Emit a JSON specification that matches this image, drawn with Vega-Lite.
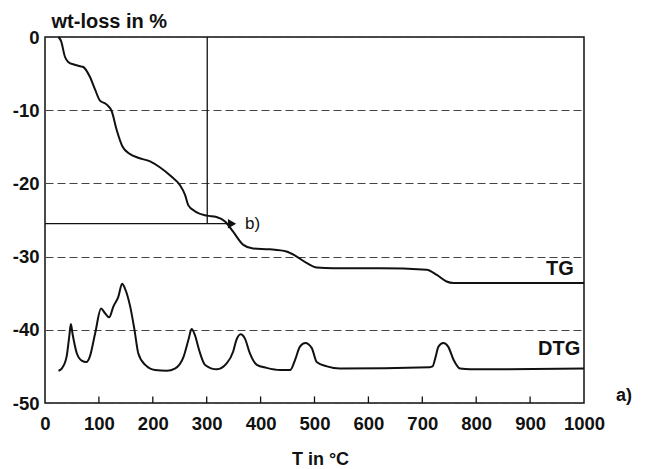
{
  "$schema": "https://vega.github.io/schema/vega-lite/v6.json",
  "width": 539,
  "height": 366,
  "autosize": "none",
  "padding": {"left": 45, "top": 37, "right": 68, "bottom": 66},
  "background": "white",
  "config": {
    "font": "Liberation Sans",
    "view": {"stroke": "#111", "strokeWidth": 1.5},
    "axis": {"labelFont": "Liberation Sans", "labelFontWeight": "bold", "labelFontSize": 18.5, "labelColor": "#111", "titleFont": "Liberation Sans", "titleFontWeight": "bold", "titleColor": "#111", "labelFlush": false, "domain": false, "labelOverlap": false}
  },
  "datasets": {
    "tg": [
      {"T": 25, "v": 0}, {"T": 30, "v": -0.6}, {"T": 37, "v": -2.7}, {"T": 43, "v": -3.4}, {"T": 55, "v": -3.8}, {"T": 65, "v": -4.0}, {"T": 71, "v": -4.1}, {"T": 83, "v": -5.4}, {"T": 93, "v": -7.2}, {"T": 102, "v": -8.7}, {"T": 114, "v": -9.2}, {"T": 124, "v": -10.2}, {"T": 133, "v": -12.7}, {"T": 144, "v": -15.0}, {"T": 158, "v": -16.0}, {"T": 173, "v": -16.5}, {"T": 195, "v": -17.0}, {"T": 213, "v": -17.8}, {"T": 235, "v": -19.1}, {"T": 250, "v": -20.2}, {"T": 260, "v": -21.6}, {"T": 266, "v": -23.0}, {"T": 278, "v": -23.8}, {"T": 300, "v": -24.4}, {"T": 318, "v": -24.6}, {"T": 334, "v": -25.2}, {"T": 349, "v": -26.6}, {"T": 368, "v": -28.4}, {"T": 386, "v": -28.9}, {"T": 417, "v": -29.0}, {"T": 448, "v": -29.3}, {"T": 467, "v": -30.0}, {"T": 486, "v": -30.9}, {"T": 504, "v": -31.5}, {"T": 535, "v": -31.6}, {"T": 622, "v": -31.6}, {"T": 708, "v": -31.8}, {"T": 727, "v": -32.5}, {"T": 745, "v": -33.4}, {"T": 758, "v": -33.6}, {"T": 1000, "v": -33.6}
    ],
    "dtg": [
      {"T": 25, "v": -45.6}, {"T": 31, "v": -45.3}, {"T": 40, "v": -43.7}, {"T": 45, "v": -40.9}, {"T": 48, "v": -39.2}, {"T": 51, "v": -40.5}, {"T": 59, "v": -43.2}, {"T": 68, "v": -44.2}, {"T": 77, "v": -44.4}, {"T": 83, "v": -43.7}, {"T": 93, "v": -40.5}, {"T": 104, "v": -37.1}, {"T": 111, "v": -37.7}, {"T": 119, "v": -38.3}, {"T": 127, "v": -36.8}, {"T": 136, "v": -35.5}, {"T": 143, "v": -33.7}, {"T": 148, "v": -34.3}, {"T": 158, "v": -36.8}, {"T": 166, "v": -40.0}, {"T": 173, "v": -43.2}, {"T": 186, "v": -44.8}, {"T": 204, "v": -45.5}, {"T": 226, "v": -45.6}, {"T": 241, "v": -45.3}, {"T": 257, "v": -43.7}, {"T": 266, "v": -41.4}, {"T": 272, "v": -39.9}, {"T": 278, "v": -40.7}, {"T": 286, "v": -42.8}, {"T": 297, "v": -44.8}, {"T": 319, "v": -45.4}, {"T": 337, "v": -44.6}, {"T": 349, "v": -43.0}, {"T": 355, "v": -41.4}, {"T": 363, "v": -40.6}, {"T": 371, "v": -41.2}, {"T": 380, "v": -43.2}, {"T": 393, "v": -44.8}, {"T": 411, "v": -45.2}, {"T": 436, "v": -45.5}, {"T": 455, "v": -45.5}, {"T": 464, "v": -44.1}, {"T": 473, "v": -42.3}, {"T": 483, "v": -41.8}, {"T": 495, "v": -42.5}, {"T": 504, "v": -44.4}, {"T": 523, "v": -45.0}, {"T": 547, "v": -45.3}, {"T": 714, "v": -45.1}, {"T": 719, "v": -45.0}, {"T": 724, "v": -43.9}, {"T": 730, "v": -42.3}, {"T": 739, "v": -41.8}, {"T": 748, "v": -42.3}, {"T": 758, "v": -44.1}, {"T": 770, "v": -45.3}, {"T": 789, "v": -45.4}, {"T": 1000, "v": -45.3}
    ],
    "labels": [
      {"T": 981, "v": -31.7, "text": "TG"},
      {"T": 993, "v": -42.6, "text": "DTG"},
      {"T": 1089, "v": -49, "text": "a)"}
    ],
    "ticks": [
      {"T": 100, "v": -50, "v2": -49.1}, {"T": 200, "v": -50, "v2": -49.1}, {"T": 300, "v": -50, "v2": -49.1}, {"T": 400, "v": -50, "v2": -49.1}, {"T": 500, "v": -50, "v2": -49.1}, {"T": 600, "v": -50, "v2": -49.1}, {"T": 700, "v": -50, "v2": -49.1}, {"T": 800, "v": -50, "v2": -49.1}, {"T": 900, "v": -50, "v2": -49.1}
    ]
  },
  "layer": [
    {
      "data": {"values": [{"x": 0}]},
      "mark": {"type": "rule", "strokeWidth": 0},
      "encoding": {
        "x": {"field": "x", "type": "quantitative", "scale": {"domain": [0, 1000], "nice": false, "zero": false},
          "axis": {"values": [0, 100, 200, 300, 400, 500, 600, 700, 800, 900, 1000], "labelExpr": "'' + datum.value", "ticks": false, "labelPadding": 11, "grid": false,
            "title": "T in °C", "titleFontSize": 18, "titleX": 275, "titleY": 61, "titleBaseline": "alphabetic"}},
        "y": {"datum": 0, "type": "quantitative", "scale": {"domain": [-50, 0], "nice": false, "zero": false},
          "axis": {"values": [0, -10, -20, -30, -40, -50], "labelExpr": "'' + datum.value", "ticks": false, "labelPadding": 6, "grid": true, "gridDash": [8, 4], "gridColor": "#444", "gridWidth": 1,
            "title": "wt-loss in %", "titleFontSize": 20, "titleAngle": 0, "titleAlign": "left", "titleBaseline": "alphabetic", "titleX": 6, "titleY": -10}}
      }
    },
    {
      "data": {"name": "ticks"},
      "mark": {"type": "rule", "color": "#111", "strokeWidth": 1.3},
      "encoding": {"x": {"field": "T", "type": "quantitative"}, "y": {"field": "v", "type": "quantitative"}, "y2": {"field": "v2"}}
    },
    {
      "data": {"name": "tg"},
      "mark": {"type": "line", "color": "#111", "strokeWidth": 2, "interpolate": "monotone"},
      "encoding": {"x": {"field": "T", "type": "quantitative"}, "y": {"field": "v", "type": "quantitative"}}
    },
    {
      "data": {"name": "dtg"},
      "mark": {"type": "line", "color": "#111", "strokeWidth": 2, "interpolate": "monotone"},
      "encoding": {"x": {"field": "T", "type": "quantitative"}, "y": {"field": "v", "type": "quantitative"}}
    },
    {
      "data": {"values": [{"T": 301, "v": 0, "v2": -25.5}]},
      "mark": {"type": "rule", "color": "#111", "strokeWidth": 1.3},
      "encoding": {"x": {"field": "T", "type": "quantitative"}, "y": {"field": "v", "type": "quantitative"}, "y2": {"field": "v2"}}
    },
    {
      "data": {"values": [{"T": 0, "T2": 347, "v": -25.5}]},
      "mark": {"type": "rule", "color": "#111", "strokeWidth": 1.3},
      "encoding": {"x": {"field": "T", "type": "quantitative"}, "x2": {"field": "T2"}, "y": {"field": "v", "type": "quantitative"}}
    },
    {
      "data": {"values": [{"T": 347, "v": -25.5}]},
      "mark": {"type": "point", "shape": "triangle-right", "filled": true, "color": "#111", "size": 90, "opacity": 1},
      "encoding": {"x": {"field": "T", "type": "quantitative"}, "y": {"field": "v", "type": "quantitative"}}
    },
    {
      "data": {"values": [{"T": 371, "v": -25.5, "text": "b)"}]},
      "mark": {"type": "text", "align": "left", "baseline": "middle", "fontSize": 17, "color": "#111", "clip": false},
      "encoding": {"x": {"field": "T", "type": "quantitative"}, "y": {"field": "v", "type": "quantitative"}, "text": {"field": "text"}}
    },
    {
      "data": {"name": "labels"},
      "mark": {"type": "text", "align": "right", "baseline": "middle", "fontSize": 20, "fontWeight": "bold", "color": "#111", "clip": false},
      "encoding": {
        "x": {"field": "T", "type": "quantitative"},
        "y": {"field": "v", "type": "quantitative"},
        "text": {"field": "text"},
        "align": {"condition": {"test": "datum.text === 'a)'", "value": "left"}, "value": "right"},
        "size": {"condition": {"test": "datum.text === 'a)'", "value": 18}, "value": 20}
      }
    }
  ]
}
